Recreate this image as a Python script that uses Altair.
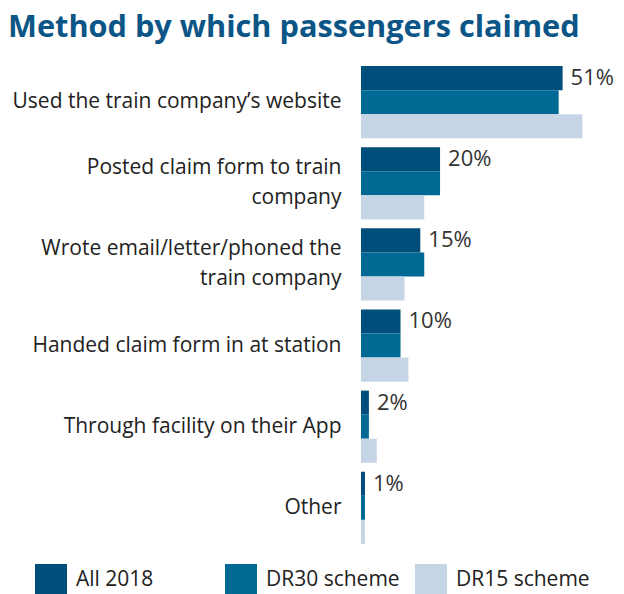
import altair as alt
import pandas as pd

categories = [
    "Used the train company\u2019s website",
    "Posted claim form to train|company",
    "Wrote email/letter/phoned the|train company",
    "Handed claim form in at station",
    "Through facility on their App",
    "Other",
]
series = ["All 2018", "DR30 scheme", "DR15 scheme"]
all_2018 = [51, 20, 15, 10, 2, 1]
dr30 = [50, 20, 16, 10, 2, 1]
dr15 = [56, 16, 11, 12, 4, 1]
colors = ["#004f7b", "#006a94", "#c5d5e5"]

rows = []
for i, c in enumerate(categories):
    for s, vals in zip(series, [all_2018, dr30, dr15]):
        rows.append({"category": c, "series": s, "value": vals[i],
                     "label": f"{vals[i]}%"})
df = pd.DataFrame(rows)

FONT = "Open Sans"

y_enc = alt.Y(
    "category:N", sort=categories, title=None,
    scale=alt.Scale(paddingInner=0.11, paddingOuter=0.05),
    axis=alt.Axis(domain=False, ticks=False, labelFontSize=21, labelFont=FONT,
                  labelColor="#222222", labelPadding=20, labelLimit=400,
                  labelExpr="split(datum.label, '|')", labelLineHeight=30,
                  labelOffset={"condition": {"test": "indexof(datum.value, '|') >= 0",
                                             "value": -15}, "value": 0}),
)
x_enc = alt.X("value:Q", scale=alt.Scale(domain=[0, 64]), axis=None)

bars = alt.Chart(df).mark_bar().encode(
    y=y_enc,
    x=x_enc,
    yOffset=alt.YOffset("series:N", sort=series, scale=alt.Scale(paddingInner=0, paddingOuter=0)),
    color=alt.Color(
        "series:N", sort=series,
        scale=alt.Scale(domain=series, range=colors),
        legend=alt.Legend(
            title=None, orient="none", legendX=-326, legendY=502,
            direction="horizontal", columns=3, gridAlign="all",
            columnPadding=15, symbolType="square", symbolSize=1024,
            symbolStrokeWidth=0, symbolOpacity=1, labelFontSize=21,
            labelFont=FONT, labelColor="#222222", labelOffset=9, labelLimit=300,
        ),
    ),
)

labels = alt.Chart(df).transform_filter(
    alt.datum.series == "All 2018"
).mark_text(align="left", baseline="middle", dx=8, fontSize=22, font=FONT,
            color="#333333").encode(
    y=y_enc,
    x=x_enc,
    yOffset=alt.YOffset("series:N", sort=series, scale=alt.Scale(domain=series, paddingInner=0, paddingOuter=0)),
    text="label:N",
)

chart = alt.layer(bars, labels).properties(
    width=253, height=486,
    autosize=alt.AutoSizeParams(type="none"),
    padding={"left": 353, "top": 54, "right": 0, "bottom": 46},
    title=alt.TitleParams(
        "Method by which passengers claimed", anchor="start", frame="group",
        dx=-353, offset=18, fontSize=30.7, font=FONT, fontWeight="bold",
        color="#0b5686", limit=600,
    ),
).configure_view(stroke=None)

chart.save("out.html", embed_options={"renderer": "svg", "actions": False})
